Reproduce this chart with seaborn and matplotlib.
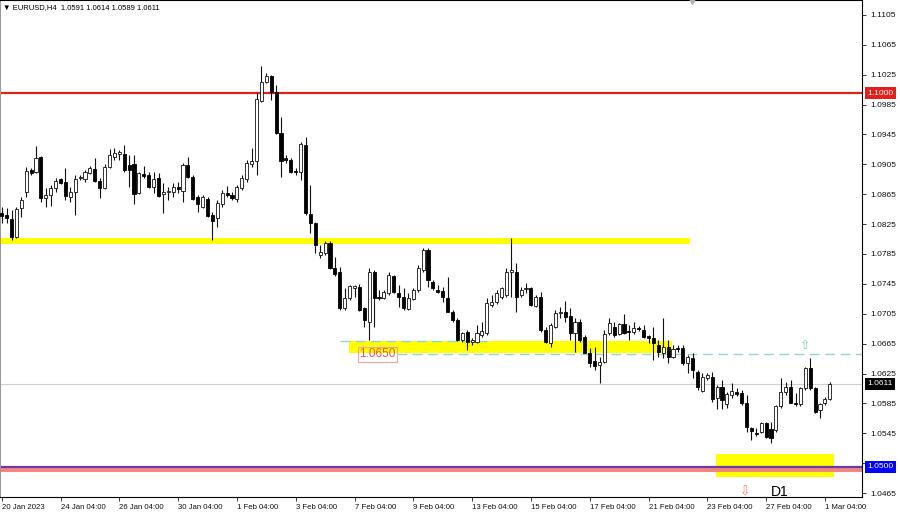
import numpy as np
import pandas as pd
import matplotlib
matplotlib.use("Agg")
import matplotlib.pyplot as plt
from matplotlib import transforms
import seaborn as sns

# ---------------- data (EURUSD H4 candles) ----------------
opens = [
    1.0840, 1.0837, 1.0832, 1.0808, 1.0847, 1.0868, 1.0897, 1.0895, 1.0915, 1.0860,
    1.0864, 1.0873, 1.0885, 1.0881, 1.0861, 1.0868, 1.0887, 1.0885, 1.0893, 1.0899,
    1.0883, 1.0873, 1.0901, 1.0915, 1.0919, 1.0919, 1.0904, 1.0905, 1.0867, 1.0892,
    1.0891, 1.0875, 1.0887, 1.0865, 1.0868, 1.0868, 1.0875, 1.0869, 1.0904, 1.0888,
    1.0861, 1.0848, 1.0859, 1.0837, 1.0833, 1.0852, 1.0867, 1.0864, 1.0859, 1.0873,
    1.0885, 1.0905, 1.0909, 1.0990, 1.1015, 1.1023, 1.1002, 1.0947, 1.0913, 1.0911,
    1.0896, 1.0895, 1.0931, 1.0839, 1.0827, 1.0784, 1.0786, 1.0800, 1.0766, 1.0761,
    1.0713, 1.0726, 1.0739, 1.0741, 1.0713, 1.0694, 1.0761, 1.0727, 1.0726, 1.0733,
    1.0756, 1.0733, 1.0727, 1.0711, 1.0725, 1.0737, 1.0764, 1.0790, 1.0748, 1.0737,
    1.0735, 1.0726, 1.0707, 1.0697, 1.0670, 1.0681, 1.0667, 1.0667, 1.0677, 1.0679,
    1.0717, 1.0721, 1.0727, 1.0730, 1.0761, 1.0761, 1.0730, 1.0738, 1.0739, 1.0715,
    1.0727, 1.0683, 1.0666, 1.0687, 1.0706, 1.0707, 1.0702, 1.0679, 1.0694, 1.0674,
    1.0652, 1.0642, 1.0636, 1.0640, 1.0679, 1.0687, 1.0678, 1.0691, 1.0682, 1.0681,
    1.0686, 1.0683, 1.0675, 1.0673, 1.0663, 1.0652, 1.0660, 1.0647, 1.0659, 1.0659,
    1.0639, 1.0646, 1.0627, 1.0602, 1.0619, 1.0620, 1.0592, 1.0607, 1.0584, 1.0596,
    1.0600, 1.0599, 1.0586, 1.0552, 1.0545, 1.0547, 1.0559, 1.0551, 1.0549, 1.0582,
    1.0600, 1.0607, 1.0586, 1.0584, 1.0606, 1.0632, 1.0606, 1.0576, 1.0586, 1.0591,
]
highs = [
    1.0848, 1.0847, 1.0844, 1.0848, 1.0861, 1.0901, 1.0900, 1.0930, 1.0916, 1.0873,
    1.0877, 1.0887, 1.0887, 1.0900, 1.0875, 1.0891, 1.0891, 1.0897, 1.0903, 1.0913,
    1.0887, 1.0905, 1.0926, 1.0927, 1.0924, 1.0931, 1.0917, 1.0917, 1.0895, 1.0903,
    1.0895, 1.0895, 1.0893, 1.0880, 1.0875, 1.0880, 1.0881, 1.0907, 1.0915, 1.0891,
    1.0864, 1.0864, 1.0861, 1.0841, 1.0857, 1.0871, 1.0876, 1.0868, 1.0877, 1.0891,
    1.0911, 1.0927, 1.1000, 1.1037, 1.1027, 1.1025, 1.1011, 1.0968, 1.0917, 1.0913,
    1.0900, 1.0935, 1.0942, 1.0877, 1.0828, 1.0797, 1.0802, 1.0802, 1.0781, 1.0768,
    1.0739, 1.0743, 1.0743, 1.0745, 1.0714, 1.0766, 1.0764, 1.0737, 1.0737, 1.0761,
    1.0757, 1.0743, 1.0739, 1.0733, 1.0739, 1.0770, 1.0793, 1.0793, 1.0750, 1.0743,
    1.0741, 1.0754, 1.0710, 1.0699, 1.0681, 1.0683, 1.0673, 1.0690, 1.0694, 1.0726,
    1.0730, 1.0737, 1.0741, 1.0766, 1.0806, 1.0773, 1.0741, 1.0746, 1.0741, 1.0730,
    1.0734, 1.0687, 1.0693, 1.0710, 1.0714, 1.0722, 1.0713, 1.0699, 1.0698, 1.0677,
    1.0659, 1.0660, 1.0647, 1.0683, 1.0699, 1.0694, 1.0693, 1.0705, 1.0690, 1.0694,
    1.0689, 1.0690, 1.0677, 1.0687, 1.0670, 1.0699, 1.0670, 1.0663, 1.0663, 1.0663,
    1.0650, 1.0652, 1.0630, 1.0626, 1.0626, 1.0627, 1.0610, 1.0616, 1.0600, 1.0612,
    1.0606, 1.0603, 1.0596, 1.0553, 1.0552, 1.0560, 1.0560, 1.0560, 1.0583, 1.0619,
    1.0614, 1.0616, 1.0599, 1.0607, 1.0634, 1.0646, 1.0607, 1.0586, 1.0594, 1.0614,
]
lows = [
    1.0827, 1.0827, 1.0804, 1.0806, 1.0835, 1.0861, 1.0891, 1.0893, 1.0855, 1.0848,
    1.0849, 1.0868, 1.0879, 1.0857, 1.0855, 1.0837, 1.0884, 1.0881, 1.0892, 1.0881,
    1.0860, 1.0872, 1.0900, 1.0911, 1.0911, 1.0895, 1.0875, 1.0852, 1.0865, 1.0887,
    1.0873, 1.0867, 1.0861, 1.0840, 1.0857, 1.0861, 1.0867, 1.0855, 1.0887, 1.0857,
    1.0841, 1.0847, 1.0835, 1.0804, 1.0821, 1.0848, 1.0861, 1.0857, 1.0855, 1.0871,
    1.0881, 1.0901, 1.0891, 1.0988, 1.1014, 1.0991, 1.0946, 1.0888, 1.0907, 1.0893,
    1.0891, 1.0884, 1.0837, 1.0813, 1.0786, 1.0780, 1.0784, 1.0765, 1.0756, 1.0710,
    1.0710, 1.0723, 1.0727, 1.0709, 1.0687, 1.0670, 1.0687, 1.0723, 1.0725, 1.0730,
    1.0733, 1.0714, 1.0710, 1.0710, 1.0723, 1.0734, 1.0761, 1.0741, 1.0737, 1.0733,
    1.0721, 1.0707, 1.0694, 1.0669, 1.0667, 1.0657, 1.0663, 1.0666, 1.0674, 1.0677,
    1.0714, 1.0718, 1.0725, 1.0727, 1.0727, 1.0707, 1.0727, 1.0733, 1.0715, 1.0714,
    1.0681, 1.0666, 1.0660, 1.0686, 1.0699, 1.0694, 1.0670, 1.0654, 1.0667, 1.0652,
    1.0634, 1.0630, 1.0612, 1.0639, 1.0677, 1.0674, 1.0677, 1.0678, 1.0670, 1.0678,
    1.0682, 1.0673, 1.0666, 1.0643, 1.0647, 1.0646, 1.0639, 1.0646, 1.0654, 1.0636,
    1.0626, 1.0619, 1.0603, 1.0600, 1.0616, 1.0587, 1.0578, 1.0578, 1.0579, 1.0592,
    1.0595, 1.0583, 1.0547, 1.0536, 1.0541, 1.0545, 1.0539, 1.0532, 1.0547, 1.0579,
    1.0596, 1.0586, 1.0582, 1.0582, 1.0603, 1.0603, 1.0572, 1.0565, 1.0583, 1.0589,
]
closes = [
    1.0836, 1.0833, 1.0808, 1.0845, 1.0857, 1.0896, 1.0893, 1.0913, 1.0860, 1.0864,
    1.0873, 1.0883, 1.0880, 1.0863, 1.0868, 1.0885, 1.0888, 1.0895, 1.0900, 1.0883,
    1.0873, 1.0901, 1.0917, 1.0920, 1.0921, 1.0897, 1.0897, 1.0865, 1.0893, 1.0889,
    1.0875, 1.0885, 1.0863, 1.0868, 1.0869, 1.0875, 1.0872, 1.0904, 1.0888, 1.0859,
    1.0852, 1.0861, 1.0836, 1.0829, 1.0853, 1.0867, 1.0864, 1.0860, 1.0875, 1.0887,
    1.0907, 1.0909, 1.0992, 1.1015, 1.1023, 1.1002, 1.0947, 1.0909, 1.0911, 1.0895,
    1.0895, 1.0932, 1.0840, 1.0827, 1.0797, 1.0788, 1.0800, 1.0766, 1.0758, 1.0713,
    1.0726, 1.0742, 1.0742, 1.0710, 1.0697, 1.0761, 1.0726, 1.0726, 1.0734, 1.0757,
    1.0734, 1.0727, 1.0713, 1.0726, 1.0737, 1.0766, 1.0790, 1.0750, 1.0739, 1.0734,
    1.0727, 1.0707, 1.0697, 1.0670, 1.0679, 1.0667, 1.0670, 1.0679, 1.0682, 1.0719,
    1.0721, 1.0733, 1.0739, 1.0761, 1.0764, 1.0727, 1.0737, 1.0739, 1.0717, 1.0727,
    1.0683, 1.0667, 1.0690, 1.0706, 1.0707, 1.0701, 1.0679, 1.0694, 1.0670, 1.0652,
    1.0639, 1.0635, 1.0640, 1.0678, 1.0693, 1.0677, 1.0691, 1.0679, 1.0681, 1.0686,
    1.0685, 1.0674, 1.0673, 1.0666, 1.0654, 1.0660, 1.0647, 1.0658, 1.0658, 1.0639,
    1.0647, 1.0630, 1.0607, 1.0620, 1.0623, 1.0591, 1.0607, 1.0590, 1.0598, 1.0602,
    1.0598, 1.0586, 1.0553, 1.0548, 1.0544, 1.0559, 1.0540, 1.0539, 1.0582, 1.0600,
    1.0607, 1.0586, 1.0584, 1.0606, 1.0632, 1.0606, 1.0573, 1.0584, 1.0591, 1.0611,
]

time_labels = ["20 Jan 2023", "24 Jan 04:00", "26 Jan 04:00", "30 Jan 04:00",
               "1 Feb 04:00", "3 Feb 04:00", "7 Feb 04:00", "9 Feb 04:00",
               "13 Feb 04:00", "15 Feb 04:00", "17 Feb 04:00", "21 Feb 04:00",
               "23 Feb 04:00", "27 Feb 04:00", "1 Mar 04:00"]
time_label_bars = [0, 12, 24, 36, 48, 60, 72, 84, 96, 108, 120, 132, 144, 156, 168]
price_ticks = [1.1105, 1.1065, 1.1025, 1.0985, 1.0945, 1.0905, 1.0865, 1.0825,
               1.0785, 1.0745, 1.0705, 1.0665, 1.0625, 1.0585, 1.0545, 1.0505, 1.0465]

level_red = 1.1000
level_blue = 1.0500
level_salmon = 1.0496
current_price = 1.0611
band_upper = (1.0799, 1.0807)
band_mid = (1.0652, 1.0668)
band_low = (1.0486, 1.0517)
dash_a = 1.0669
dash_b = 1.0651
title_text = "EURUSD,H4  1.0591 1.0614 1.0589 1.0611"

# ---------------- figure ----------------
sns.set_theme(style="white")
plt.rcParams["font.family"] = ["Liberation Sans", "DejaVu Sans"]

df = pd.DataFrame({"open": opens, "high": highs, "low": lows, "close": closes})
df["bar"] = np.arange(len(df))
df["bull"] = df["close"] >= df["open"]
df["bottom"] = df[["open", "close"]].min(axis=1)
df["height"] = (df["close"] - df["open"]).abs().clip(lower=0.00004)

W, H = 900, 516
fig = plt.figure(figsize=(W / 100, H / 100), dpi=100)
ax = fig.add_axes([0, 19 / H, 862 / W, 497 / H])
ax.set_facecolor("white")

ax.set_xlim(-0.35, 175.57)
ax.set_ylim(1.04597, 1.1125)

def fx(px):
    return px / 862.0

# levels and zones
ax.axhline(current_price, color="#cfcfcf", lw=0.8, zorder=0.5)
ax.axhspan(*band_upper, xmin=0, xmax=fx(690), color="#ffff00", lw=0, zorder=1)
ax.axhspan(*band_mid, xmin=fx(349), xmax=fx(672), color="#ffff00", lw=0, zorder=1)
ax.axhspan(*band_low, xmin=fx(716), xmax=fx(834), color="#ffff00", lw=0, zorder=1)
ax.axhline(dash_a, xmin=fx(340), xmax=fx(493), color="#8fd6cf", lw=1.0,
           ls=(0, (7, 4)), zorder=1.5)
ax.axhline(dash_b, xmin=fx(397), xmax=1, color="#8fd6cf", lw=1.0,
           ls=(0, (7, 4)), zorder=1.5)
ax.axhline(level_red, color="#e3211c", lw=1.6, zorder=2)
ax.axhline(level_salmon, color="#f4837d", lw=2.8, zorder=2.4)
ax.axhline(level_blue, color="#6a3aa6", lw=1.6, zorder=2.5)

# candles
ax.vlines(df["bar"], df["low"], df["high"], color="#111111", lw=0.8, zorder=3)
bull = df[df["bull"]]
bear = df[~df["bull"]]
ax.bar(bull["bar"], bull["height"], bottom=bull["bottom"], width=0.62,
       facecolor="white", edgecolor="#111111", lw=0.6, zorder=4)
ax.bar(bear["bar"], bear["height"], bottom=bear["bottom"], width=0.62,
       facecolor="black", edgecolor="black", lw=0.6, zorder=4)

# annotations
ax.text(76.7, 1.0651, "1.0650", color="#f0504a", fontsize=8.5, ha="center",
        va="center", zorder=6,
        bbox=dict(boxstyle="square,pad=0.12", fc="none", ec="#f4a4a0", lw=0.8))
ax.text(163.9, 1.0662, "\u21e7", color="#7ccaa0", fontsize=9, ha="center",
        va="center", family=["DejaVu Sans"], zorder=6)
ax.text(151.7, 1.0466, "\u21e9", color="#f0806f", fontsize=9, ha="center",
        va="center", family=["DejaVu Sans"], zorder=6)
ax.text(158.8, 1.0466, "D1", color="black", fontsize=10, ha="center",
        va="center", zorder=6)
ax.text(0.004, 0.992, "\u25bc " + title_text, transform=ax.transAxes,
        fontsize=5.5, ha="left", va="top", color="black", zorder=7)
ax.plot([140.9], [1.1123], marker="v", color="#b0b0b0", ms=4, clip_on=False,
        zorder=7)

# axes styling
ax.yaxis.tick_right()
ax.set_yticks(price_ticks)
ax.set_yticklabels([f"{v:.4f}" for v in price_ticks])
ax.set_xticks(time_label_bars)
ax.set_xticklabels(time_labels)
for lbl in ax.get_xticklabels():
    lbl.set_horizontalalignment("left")
ax.tick_params(axis="y", which="both", right=True, left=False, direction="out",
               length=3, width=0.6, labelsize=6, pad=3, colors="#111111")
ax.tick_params(axis="x", which="both", bottom=True, direction="out",
               length=3, width=0.6, labelsize=5.6, pad=2, colors="#111111")
for s in ["top", "right", "bottom"]:
    ax.spines[s].set_color("black")
    ax.spines[s].set_linewidth(0.8)
ax.spines["left"].set_color("#9a9a9a")
ax.spines["left"].set_linewidth(1.5)
ax.grid(False)

# price boxes on the right scale (they sit over the scale, as in the terminal)
trans = transforms.blended_transform_factory(ax.transAxes, ax.transData)
for val, bg in [(level_red, "#e3211c"), (current_price, "#000000"), (level_blue, "#0000ff")]:
    ax.text(1.006, val, f"{val:.4f}", transform=trans, color="white", fontsize=6,
            ha="left", va="center", clip_on=False, zorder=10,
            bbox=dict(boxstyle="square,pad=0.3", fc=bg, ec="none"))

fig.savefig("out.png", dpi=100)
